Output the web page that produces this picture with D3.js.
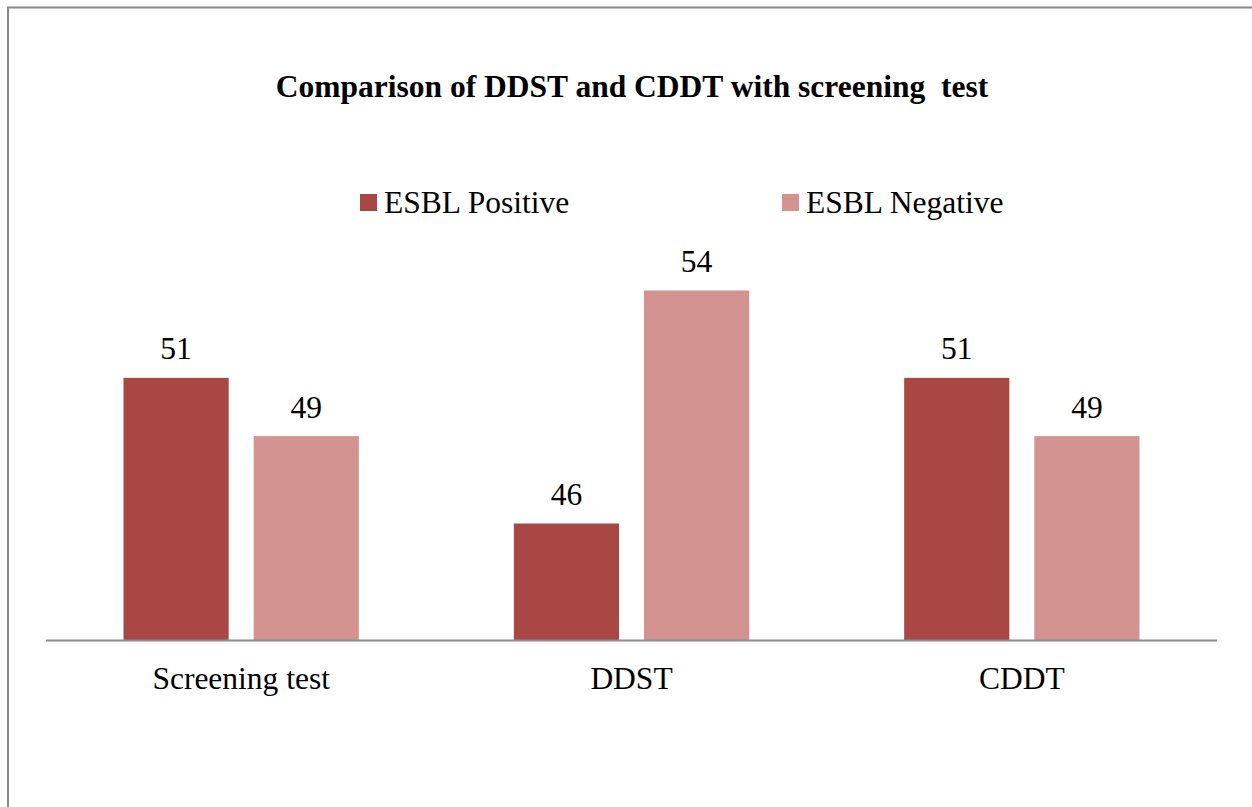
<!DOCTYPE html>
<html>
<head>
<meta charset="utf-8">
<script src="https://cdn.jsdelivr.net/npm/d3@7"></script>
<style>
  body { margin: 0; background: #fff; }
</style>
</head>
<body>
<div id="chart"></div>
<script>
        // Data
        const categories = ["Screening test", "DDST", "CDDT"];
        const seriesNames = ["ESBL Positive", "ESBL Negative"];
        const positiveValues = [51, 46, 51];
        const negativeValues = [49, 54, 49];
        const colors = ["#A94745", "#D39391"];

        const width = 1252;
        const height = 807;
        const serif = "'Liberation Serif'";

        const svg = d3.select("#chart")
            .append("svg")
            .attr("width", width)
            .attr("height", height)
            .attr("font-family", serif);

        // Outer frame (only top and left edges visible)
        svg.append("path")
            .attr("d", `M8,${height} V7.5 H${width}`)
            .attr("fill", "none")
            .attr("stroke", "#888")
            .attr("stroke-width", 2);

        // Title
        svg.append("text")
            .attr("x", 632)
            .attr("y", 97)
            .attr("text-anchor", "middle")
            .attr("font-family", serif)
            .attr("font-size", "31.5px")
            .attr("font-weight", "bold")
            .style("white-space", "pre")
            .text("Comparison of DDST and CDDT with screening  test");

        // Scales
        const x0 = d3.scaleBand()
            .domain(categories)
            .range([46, 1217]);

        const x1 = d3.scaleBand()
            .domain(seriesNames)
            .range([77.5, x0.bandwidth() - 77.5])
            .paddingInner(0.192);

        const y = d3.scaleLinear()
            .domain([42, 56])
            .range([640, 232.25]);

        const rows = categories.map((c, i) => ({
            category: c,
            values: [
                { series: seriesNames[0], value: positiveValues[i], color: colors[0] },
                { series: seriesNames[1], value: negativeValues[i], color: colors[1] }
            ]
        }));

        const groups = svg.append("g")
            .selectAll("g")
            .data(rows)
            .enter()
            .append("g")
            .attr("transform", d => `translate(${x0(d.category)},0)`);

        groups.selectAll("rect")
            .data(d => d.values)
            .enter()
            .append("rect")
            .attr("x", d => x1(d.series))
            .attr("y", d => y(d.value))
            .attr("width", x1.bandwidth())
            .attr("height", d => y.range()[0] - y(d.value))
            .attr("fill", d => d.color);

        groups.selectAll("text.value")
            .data(d => d.values)
            .enter()
            .append("text")
            .attr("class", "value")
            .attr("x", d => x1(d.series) + x1.bandwidth() / 2)
            .attr("y", d => y(d.value) - 18.5)
            .attr("text-anchor", "middle")
            .attr("font-family", serif)
            .attr("font-size", "31.5px")
            .text(d => d.value);

        // Category axis
        const xAxis = svg.append("g")
            .attr("transform", `translate(0,${y.range()[0]})`)
            .call(d3.axisBottom(x0).tickSize(0).tickPadding(0));

        xAxis.select(".domain")
            .attr("stroke", "#8c8c8c")
            .attr("stroke-width", 2)
            .attr("d", `M46,0.5H1217`);

        xAxis.selectAll("text")
            .attr("font-family", serif)
            .attr("font-size", "31.5px")
            .attr("fill", "#000")
            .attr("dy", null)
            .attr("y", 49);

        // Legend
        const legendX = [360, 782];
        const legend = svg.append("g")
            .selectAll("g")
            .data(seriesNames)
            .enter()
            .append("g")
            .attr("transform", (d, i) => `translate(${legendX[i]},194)`);

        legend.append("rect")
            .attr("width", 17)
            .attr("height", 17)
            .attr("fill", (d, i) => colors[i]);

        legend.append("text")
            .attr("x", 24)
            .attr("y", 18.5)
            .attr("font-family", serif)
            .attr("font-size", "31.5px")
            .text(d => d);
</script>
</body>
</html>
